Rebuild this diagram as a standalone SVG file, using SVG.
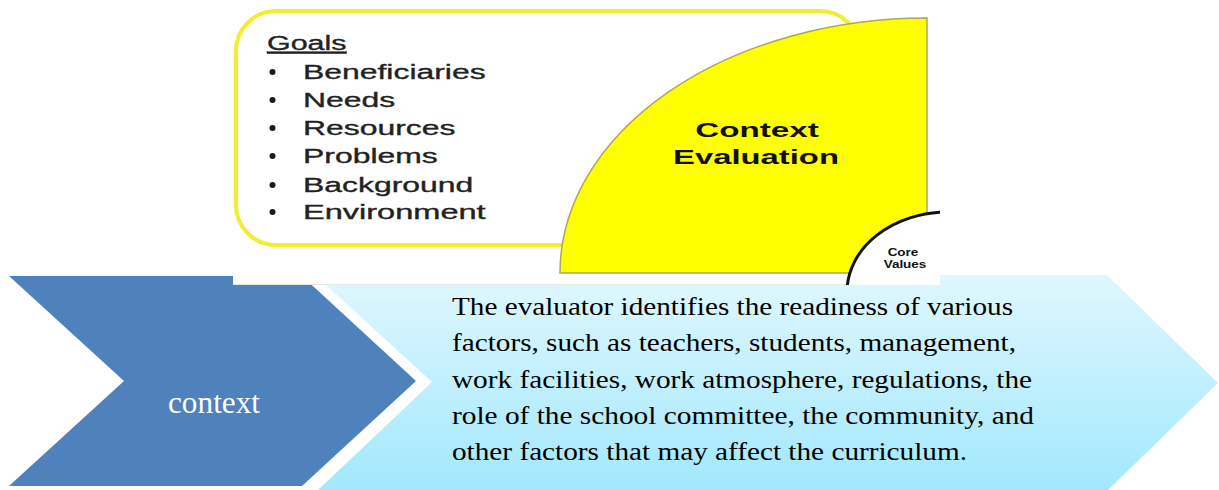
<svg xmlns="http://www.w3.org/2000/svg" width="1219" height="490" viewBox="0 0 1219 490">
  <defs>
    <linearGradient id="lightGrad" x1="0" y1="0" x2="0" y2="1">
      <stop offset="0" stop-color="#e0f7fe"/>
      <stop offset="1" stop-color="#a2e8fd"/>
    </linearGradient>
    <clipPath id="panelClip">
      <rect x="233" y="0" width="707" height="285"/>
    </clipPath>
    <style>
      .list { font-family: "Liberation Sans", Arial, sans-serif; font-size: 21px; fill: #222222; stroke: #222222; stroke-width: 0.35px; }
      .bullet { fill: #1a1a1a; }
      .bold { font-family: "Liberation Sans", Arial, sans-serif; font-weight: bold; fill: #111111; }
      .body { font-family: "Liberation Serif", "Times New Roman", serif; font-size: 26px; fill: #000000; }
    </style>
  </defs>
  <rect x="0" y="0" width="1219" height="490" fill="#ffffff"/>

  <g id="description-chevron">
    <polygon points="315,275 1107,275 1218,383 1108,490 318,490 432,382" fill="url(#lightGrad)"/>
    <text class="body" x="452" y="315" textLength="561" lengthAdjust="spacingAndGlyphs">The evaluator identifies the readiness of various</text>
    <text class="body" x="452" y="351.25" textLength="564" lengthAdjust="spacingAndGlyphs">factors, such as teachers, students, management,</text>
    <text class="body" x="452" y="387.5" textLength="580" lengthAdjust="spacingAndGlyphs">work facilities, work atmosphere, regulations, the</text>
    <text class="body" x="452" y="423.75" textLength="582" lengthAdjust="spacingAndGlyphs">role of the school committee, the community, and</text>
    <text class="body" x="452" y="460" textLength="515" lengthAdjust="spacingAndGlyphs">other factors that may affect the curriculum.</text>
  </g>

  <g id="context-chevron">
    <polygon points="9,276 302,276 416,381 302,486 9,486 124,381" fill="#4f81bd"/>
    <text x="168" y="413" textLength="92" lengthAdjust="spacingAndGlyphs" style="font-family:'Liberation Serif','Times New Roman',serif;font-size:31px;fill:#ffffff">context</text>
  </g>

  <g id="image-panel" clip-path="url(#panelClip)">
    <rect x="233" y="0" width="707" height="285" fill="#ffffff"/>
    <line x1="233" y1="284.5" x2="940" y2="284.5" stroke="#e6e6e6" stroke-width="1"/>
    <g id="goals-box">
      <rect x="236" y="11" width="624" height="234" rx="40" ry="40" fill="#ffffff" stroke="#f2ee2e" stroke-width="4"/>
      <text class="list" transform="translate(267,50) scale(1.45,1)" text-decoration="underline">Goals</text>
      <circle class="bullet" cx="272.5" cy="72" r="3"/>
      <circle class="bullet" cx="272.5" cy="100" r="3"/>
      <circle class="bullet" cx="272.5" cy="128" r="3"/>
      <circle class="bullet" cx="272.5" cy="156" r="3"/>
      <circle class="bullet" cx="272.5" cy="185" r="3"/>
      <circle class="bullet" cx="272.5" cy="212" r="3"/>
      <text class="list" transform="translate(303,79) scale(1.52,1)">Beneficiaries</text>
      <text class="list" transform="translate(303,107) scale(1.52,1)">Needs</text>
      <text class="list" transform="translate(303,135) scale(1.52,1)">Resources</text>
      <text class="list" transform="translate(303,163) scale(1.52,1)">Problems</text>
      <text class="list" transform="translate(303,192) scale(1.52,1)">Background</text>
      <text class="list" transform="translate(303,219) scale(1.55,1)">Environment</text>
    </g>
    <g id="context-evaluation">
      <path d="M 927 273 L 560 273 A 367 255 0 0 1 927 18 Z" fill="#ffff00" stroke="#a8a860" stroke-width="1.5"/>
      <text class="bold" transform="translate(757,137) scale(1.66,1)" x="0" y="0" text-anchor="middle" font-size="20">Context</text>
      <text class="bold" transform="translate(756,164) scale(1.64,1)" x="0" y="0" text-anchor="middle" font-size="20">Evaluation</text>
    </g>
    <g id="core-values">
      <ellipse cx="948" cy="292" rx="101" ry="80" fill="#ffffff" stroke="#111111" stroke-width="3"/>
      <text class="bold" transform="translate(903,256) scale(1.35,1)" text-anchor="middle" font-size="10">Core</text>
      <text class="bold" transform="translate(905,268) scale(1.35,1)" text-anchor="middle" font-size="10">Values</text>
    </g>
  </g>

  <g id="connectors"/>
</svg>
